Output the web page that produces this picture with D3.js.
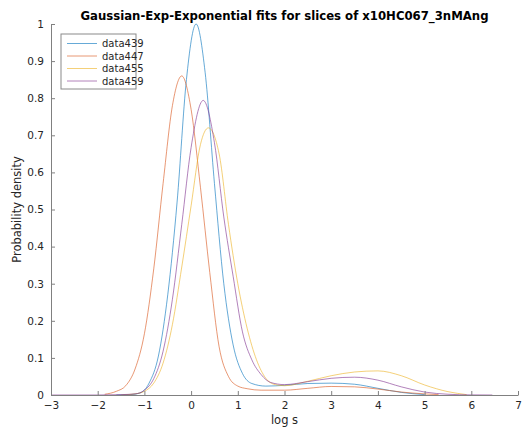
<!DOCTYPE html>
<html>
<head>
<meta charset="utf-8">
<script src="https://cdn.jsdelivr.net/npm/d3@7"></script>
<style>
  html, body { margin: 0; padding: 0; background: #fff; }
  svg { display: block; font-family: "DejaVu Sans", sans-serif; }
</style>
</head>
<body>
<svg id="chart" width="523" height="430"></svg>
<script>
// Fitted density curves (log s vs probability density), one array pair per slice
const seriesNames = ["data439", "data447", "data455", "data459"];
const seriesColors = ["#0072BD", "#D95319", "#EDB120", "#7E2F8E"];

const x439 = [-1.6, -1.3, -1.1, -0.9, -0.7, -0.5, -0.3, -0.1, 0.107, 0.3, 0.5, 0.7, 0.9, 1.1, 1.3, 1.6, 2.0, 2.5, 3.0, 3.5, 4.0, 4.5, 5.0];
const y439 = [0.000, 0.001, 0.005, 0.032, 0.105, 0.27, 0.52, 0.85, 1.0, 0.87, 0.57, 0.30, 0.135, 0.058, 0.031, 0.024, 0.026, 0.031, 0.032, 0.029, 0.018, 0.007, 0.001];

const x447 = [-1.85, -1.6, -1.4, -1.2, -1.0, -0.8, -0.6, -0.4, -0.2, 0.0, 0.2, 0.4, 0.6, 0.8, 1.0, 1.2, 1.5, 2.0, 2.5, 3.0, 3.5, 4.0, 4.5, 5.0, 5.3];
const y447 = [0.002, 0.010, 0.025, 0.07, 0.165, 0.34, 0.57, 0.78, 0.86, 0.77, 0.56, 0.33, 0.13, 0.05, 0.024, 0.017, 0.013, 0.013, 0.018, 0.023, 0.022, 0.016, 0.008, 0.003, 0.001];

const x455 = [-1.5, -1.2, -1.0, -0.8, -0.6, -0.4, -0.2, 0.0, 0.2, 0.37, 0.6, 0.8, 1.0, 1.2, 1.4, 1.6, 1.8, 2.0, 2.5, 3.0, 3.5, 4.0, 4.5, 5.0, 5.5, 5.9];
const y455 = [0.000, 0.003, 0.010, 0.032, 0.086, 0.19, 0.345, 0.51, 0.675, 0.72, 0.65, 0.46, 0.30, 0.18, 0.095, 0.045, 0.028, 0.025, 0.037, 0.052, 0.062, 0.065, 0.052, 0.027, 0.009, 0.001];

const x459 = [-3.0, -2.0, -1.5, -1.2, -1.0, -0.8, -0.6, -0.4, -0.2, 0.0, 0.26, 0.5, 0.7, 0.9, 1.1, 1.3, 1.5, 1.7, 2.0, 2.5, 3.0, 3.5, 4.0, 4.5, 5.0, 5.5, 6.0, 6.45];
const y459 = [0.000, 0.000, 0.001, 0.003, 0.013, 0.044, 0.118, 0.258, 0.46, 0.667, 0.794, 0.68, 0.48, 0.32, 0.17, 0.095, 0.055, 0.034, 0.028, 0.036, 0.045, 0.048, 0.040, 0.022, 0.008, 0.002, 0.0003, 0.000];

const seriesX = [x439, x447, x455, x459];
const seriesY = [y439, y447, y455, y459];

const xTicks = [-3, -2, -1, 0, 1, 2, 3, 4, 5, 6, 7];
const yTicks = [0, 0.1, 0.2, 0.3, 0.4, 0.5, 0.6, 0.7, 0.8, 0.9, 1];

const titleText = "Gaussian-Exp-Exponential fits for slices of x10HC067_3nMAng";
const xLabelText = "log s";
const yLabelText = "Probability density";

const svg = d3.select("#chart");
const plot = { left: 51, right: 518, top: 24, bottom: 395 };
const axisColor = "#808080";
const textColor = "#262626";

const x = d3.scaleLinear().domain([-3, 7]).range([plot.left, plot.right]);
const y = d3.scaleLinear().domain([0, 1]).range([plot.bottom, plot.top]);

// Curves
const line = d3.line()
  .x(d => x(d[0]))
  .y(d => y(d[1]))
  .curve(d3.curveMonotoneX);

seriesNames.forEach((name, i) => {
  const pts = seriesX[i].map((v, j) => [v, seriesY[i][j]]);
  svg.append("path")
    .datum(pts)
    .attr("fill", "none")
    .attr("stroke", seriesColors[i])
    .attr("stroke-opacity", 0.8)
    .attr("stroke-width", 0.75)
    .attr("d", line);
});

// Axes, ticks pointing inward
const xAxis = svg.append("g")
  .attr("transform", `translate(0,${plot.bottom})`)
  .call(d3.axisBottom(x).tickValues(xTicks).tickSizeInner(-4).tickSizeOuter(0).tickPadding(7)
    .tickFormat(d3.format("d")));
const yAxis = svg.append("g")
  .attr("transform", `translate(${plot.left},0)`)
  .call(d3.axisLeft(y).tickValues(yTicks).tickSizeInner(-4).tickSizeOuter(0).tickPadding(7)
    .tickFormat(d => d === 0 || d === 1 ? String(d) : d3.format(".1f")(d)));

[xAxis, yAxis].forEach(g => {
  g.select(".domain").attr("stroke", axisColor).attr("stroke-width", 1);
  g.selectAll(".tick line").attr("stroke", axisColor);
  g.selectAll(".tick text")
    .attr("fill", textColor)
    .style("font-family", "'DejaVu Sans', sans-serif")
    .style("font-size", "10.5px");
});

// Title and axis labels
svg.append("text")
  .attr("x", (plot.left + plot.right) / 2)
  .attr("y", 20)
  .attr("text-anchor", "middle")
  .attr("fill", "#000")
  .style("font-size", "11.7px")
  .style("font-weight", "bold")
  .text(titleText);

svg.append("text")
  .attr("x", (plot.left + plot.right) / 2)
  .attr("y", 424)
  .attr("text-anchor", "middle")
  .attr("fill", textColor)
  .style("font-size", "11.5px")
  .text(xLabelText);

svg.append("text")
  .attr("transform", `translate(21,${(plot.top + plot.bottom) / 2}) rotate(-90)`)
  .attr("text-anchor", "middle")
  .attr("fill", textColor)
  .style("font-size", "11.5px")
  .text(yLabelText);

// Legend
const legend = svg.append("g").attr("transform", "translate(61,34)");
legend.append("rect")
  .attr("width", 75).attr("height", 55)
  .attr("fill", "#fff")
  .attr("stroke", "#8a8a8a")
  .attr("stroke-width", 1);
seriesNames.forEach((name, i) => {
  const ry = 9.5 + i * 12.5;
  legend.append("line")
    .attr("x1", 6).attr("x2", 36)
    .attr("y1", ry).attr("y2", ry)
    .attr("stroke", seriesColors[i])
    .attr("stroke-opacity", 0.8)
    .attr("stroke-width", 0.75);
  legend.append("text")
    .attr("x", 41).attr("y", ry + 3.6)
    .attr("fill", textColor)
    .style("font-size", "10px")
    .text(name);
});
</script>
</body>
</html>
